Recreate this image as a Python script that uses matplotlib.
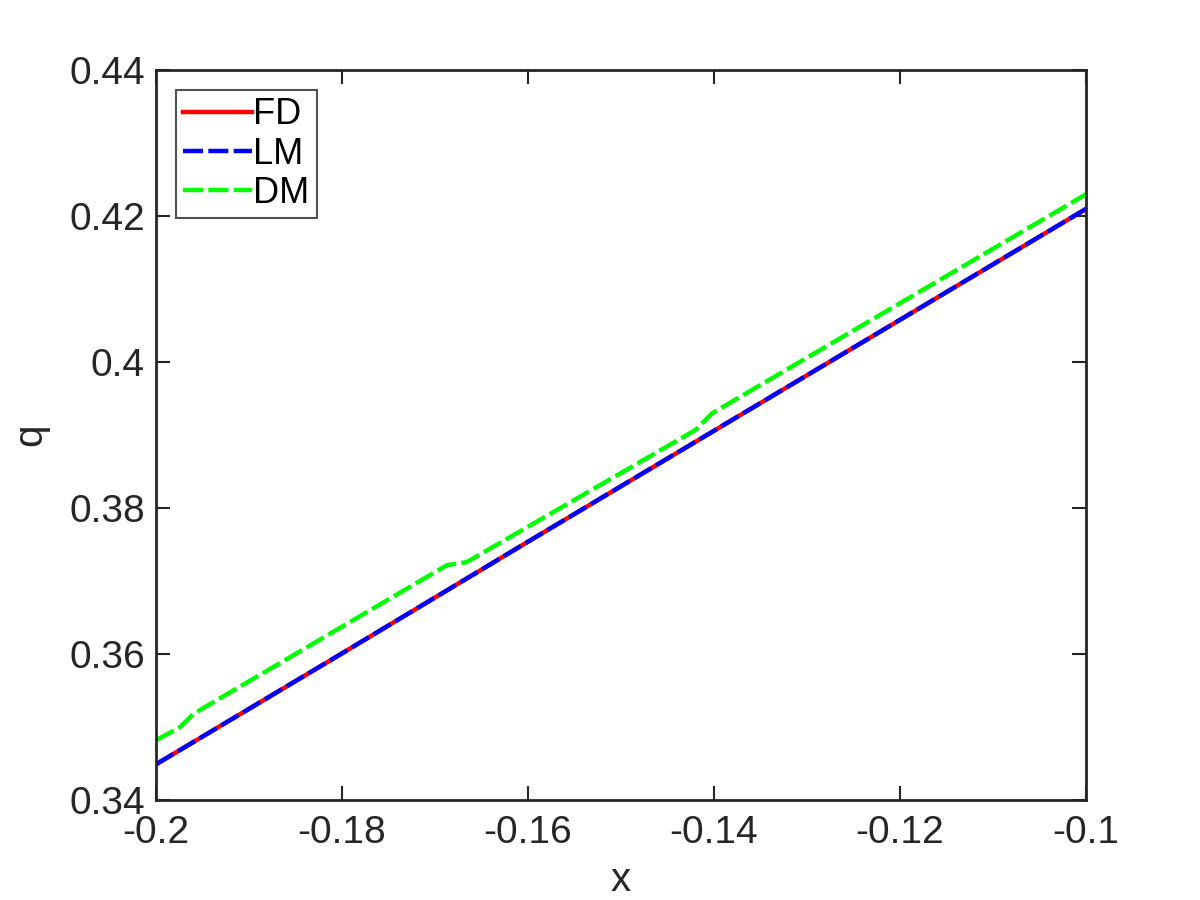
import matplotlib
matplotlib.use("Agg")
import matplotlib.pyplot as plt

# -- Donnees -----------------------------------------------------------------
x_fd = [-0.2, -0.18, -0.16, -0.14, -0.12, -0.1]
q_fd = [0.3449, 0.3601, 0.3754, 0.3906, 0.4058, 0.4210]

x_lm = x_fd
q_lm = q_fd

x_dm = [-0.2, -0.1974, -0.1960, -0.1687, -0.1666, -0.1420, -0.1402, -0.1]
q_dm = [0.3482, 0.3500, 0.3518, 0.3722, 0.3726, 0.3907, 0.3930, 0.4230]

xticks = [-0.2, -0.18, -0.16, -0.14, -0.12, -0.1]
yticks = [0.34, 0.36, 0.38, 0.4, 0.42, 0.44]

plt.rcParams["font.family"] = ["Liberation Sans", "DejaVu Sans"]
dark = "#262626"

fig = plt.figure(figsize=(12, 9), dpi=100)
ax = fig.add_axes([0.13, 0.111, 0.775, 0.811])

ax.plot(x_fd, q_fd, color="red", linewidth=3.2, label="FD")
ax.plot(x_lm, q_lm, color="blue", linewidth=3.2, dashes=(4.5, 1.2), label="LM")
ax.plot(x_dm, q_dm, color="#00ff00", linewidth=3.2, dashes=(4.5, 1.2), label="DM")

ax.set_xlim(-0.2, -0.1)
ax.set_ylim(0.34, 0.44)
ax.set_xticks(xticks)
ax.set_xticklabels(["%g" % v for v in xticks])
ax.set_yticks(yticks)
ax.set_yticklabels(["%g" % v for v in yticks])

ax.tick_params(direction="in", length=10, width=1.5, colors=dark,
               labelsize=28, top=True, right=True)
ax.tick_params(axis="x", pad=11)
ax.tick_params(axis="y", pad=8)
for s in ax.spines.values():
    s.set_linewidth(2)
    s.set_color(dark)

ax.set_xlabel("x", fontsize=29, color=dark, labelpad=7)
ax.set_ylabel("q", fontsize=29, color=dark, labelpad=14)

leg = ax.legend(loc="upper left", fontsize=26, frameon=True, fancybox=False,
                handlelength=1.9, handletextpad=0.05, borderpad=0.2,
                labelspacing=0.12, borderaxespad=0.55)
leg.get_frame().set_edgecolor(dark)
leg.get_frame().set_linewidth(1.5)

fig.savefig("out.png", dpi=100, facecolor="white")
